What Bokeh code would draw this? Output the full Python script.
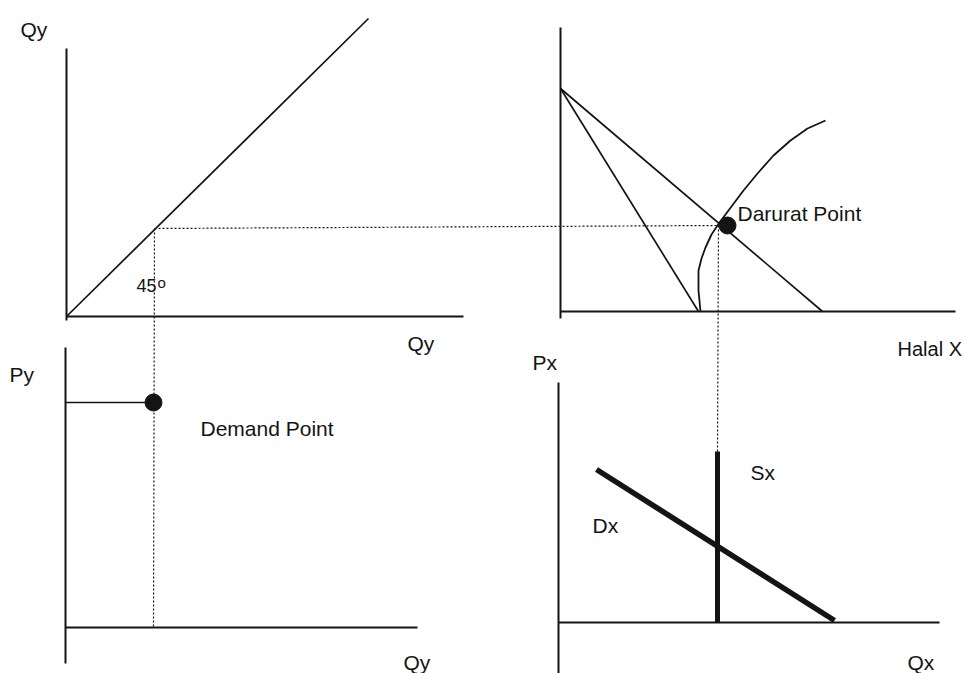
from bokeh.plotting import figure
from bokeh.models import Range1d
from bokeh.core.properties import value
from bokeh.embed import file_html
from bokeh.resources import INLINE

# ---------------- data (panel units, measured from each panel's origin, up = +) ----------------
# top-left: 45 degree line Qy -> Qy
line45_x = [0, 302]
line45_y = [0, 298]
qy_star = 88                      # chosen quantity of Y

# top-right: two budget lines from a common intercept and the darurat curve
budget_intercept = 223
budget_x_intercepts = [138, 262]
curve_x = [140, 138, 138, 141, 145, 151, 159, 165, 171, 183, 197, 213, 230, 247, 265]
curve_y = [0, 21, 41, 53, 64, 77, 89, 97, 105, 121, 138, 156, 171, 183, 191]
darurat_point = (167, 86)
darurat_q = 158

# bottom-left: demand point for Y
py_star = 225

# bottom-right: market for halal X
sx_q = 159
sx_top = 171
dx_x = [38, 276]
dx_y = [153, 2]

# ---------------- layout (canvas pixel positions of panel origins and axis extents) -------------
O_TL = (66, 316)
O_TR = (560, 311)
O_BL = (65, 627)
O_BR = (558, 622)

AX = {  # (vertical from, vertical to, horizontal to)
    "TL": (-4, 268, 397),
    "TR": (-7, 284, 395),
    "BL": (-36, 280, 352),
    "BR": (-51, 240, 381),
}

FONT = value("Liberation Sans")
INK = "#141414"
W, H = 966, 673


def to_canvas(origin, xs, ys):
    ox, oy = origin
    return [ox + x for x in xs], [oy - y for y in ys]


p = figure(width=W, height=H, output_backend="svg", toolbar_location=None,
           x_range=Range1d(0, W), y_range=Range1d(H, 0), min_border=0)
p.axis.visible = False
p.grid.visible = False
p.outline_line_color = None
p.background_fill_color = "white"
p.border_fill_color = "white"

# axes of each panel
for key, origin in (("TL", O_TL), ("TR", O_TR), ("BL", O_BL), ("BR", O_BR)):
    v0, v1, h1 = AX[key]
    xs, ys = to_canvas(origin, [0, 0], [v0, v1])
    p.line(xs, ys, line_color=INK, line_width=2)
    xs, ys = to_canvas(origin, [0, h1], [0, 0])
    p.line(xs, ys, line_color=INK, line_width=2)

# top-left 45 degree line
xs, ys = to_canvas(O_TL, line45_x, line45_y)
p.line(xs, ys, line_color=INK, line_width=1.7)

# top-right budget lines
for xi in budget_x_intercepts:
    xs, ys = to_canvas(O_TR, [0, xi], [budget_intercept, 0])
    p.line(xs, ys, line_color=INK, line_width=1.7)

# top-right curve
xs, ys = to_canvas(O_TR, curve_x, curve_y)
p.line(xs, ys, line_color=INK, line_width=1.8, line_join="round")

# dotted guide lines
ax_, ay_ = to_canvas(O_TL, [qy_star], [qy_star])
bx_, by_ = to_canvas(O_TR, [darurat_q], [darurat_point[1]])
p.line([ax_[0], bx_[0]], [ay_[0], by_[0]], line_color=INK, line_width=1.2, line_dash="2 2")
cx_, cy_ = to_canvas(O_BL, [qy_star], [0])
p.line([ax_[0], cx_[0]], [ay_[0], cy_[0]], line_color=INK, line_width=1.2, line_dash="2 2")
dx_c, dy_c = to_canvas(O_BR, [sx_q], [sx_top])
p.line([bx_[0], dx_c[0]], [by_[0], dy_c[0]], line_color=INK, line_width=1.2, line_dash="2 2")

# bottom-left price line and demand point
xs, ys = to_canvas(O_BL, [0, qy_star], [py_star, py_star])
p.line(xs, ys, line_color=INK, line_width=1.7)
xs, ys = to_canvas(O_BL, [qy_star], [py_star])
p.scatter(xs, ys, size=17, fill_color=INK, line_color=INK)

# darurat point
xs, ys = to_canvas(O_TR, [darurat_point[0]], [darurat_point[1]])
p.scatter(xs, ys, size=17, fill_color=INK, line_color=INK)

# bottom-right supply and demand
xs, ys = to_canvas(O_BR, [sx_q, sx_q], [0, sx_top])
p.line(xs, ys, line_color=INK, line_width=5)
xs, ys = to_canvas(O_BR, dx_x, dx_y)
p.line(xs, ys, line_color=INK, line_width=5.5)

# labels (canvas positions: left x, baseline y, font px)
labels = [
    ("Qy", 20, 29, 21),
    ("Qy", 407, 343, 21),
    ("45", 136, 285, 18),
    ("Py", 9, 374, 21),
    ("Demand Point", 200, 428, 21),
    ("Qy", 403, 662, 21),
    ("Darurat Point", 737, 213, 21),
    ("Halal X", 897, 348, 20),
    ("Px", 532, 362, 21),
    ("Sx", 750, 472, 21),
    ("Dx", 592, 525, 21),
    ("Qx", 907, 662, 21),
]
for t, x, y, s in labels:
    p.text([x], [y], text=[t], text_font=FONT, text_font_size=f"{s}px",
           text_color=INK, text_align="left", text_baseline="alphabetic")
p.text([157], [282], text=["o"], text_font=FONT, text_font_size="15px",
       text_color=INK, text_align="left", text_baseline="alphabetic")

open("out.html", "w").write(file_html(p, INLINE))
